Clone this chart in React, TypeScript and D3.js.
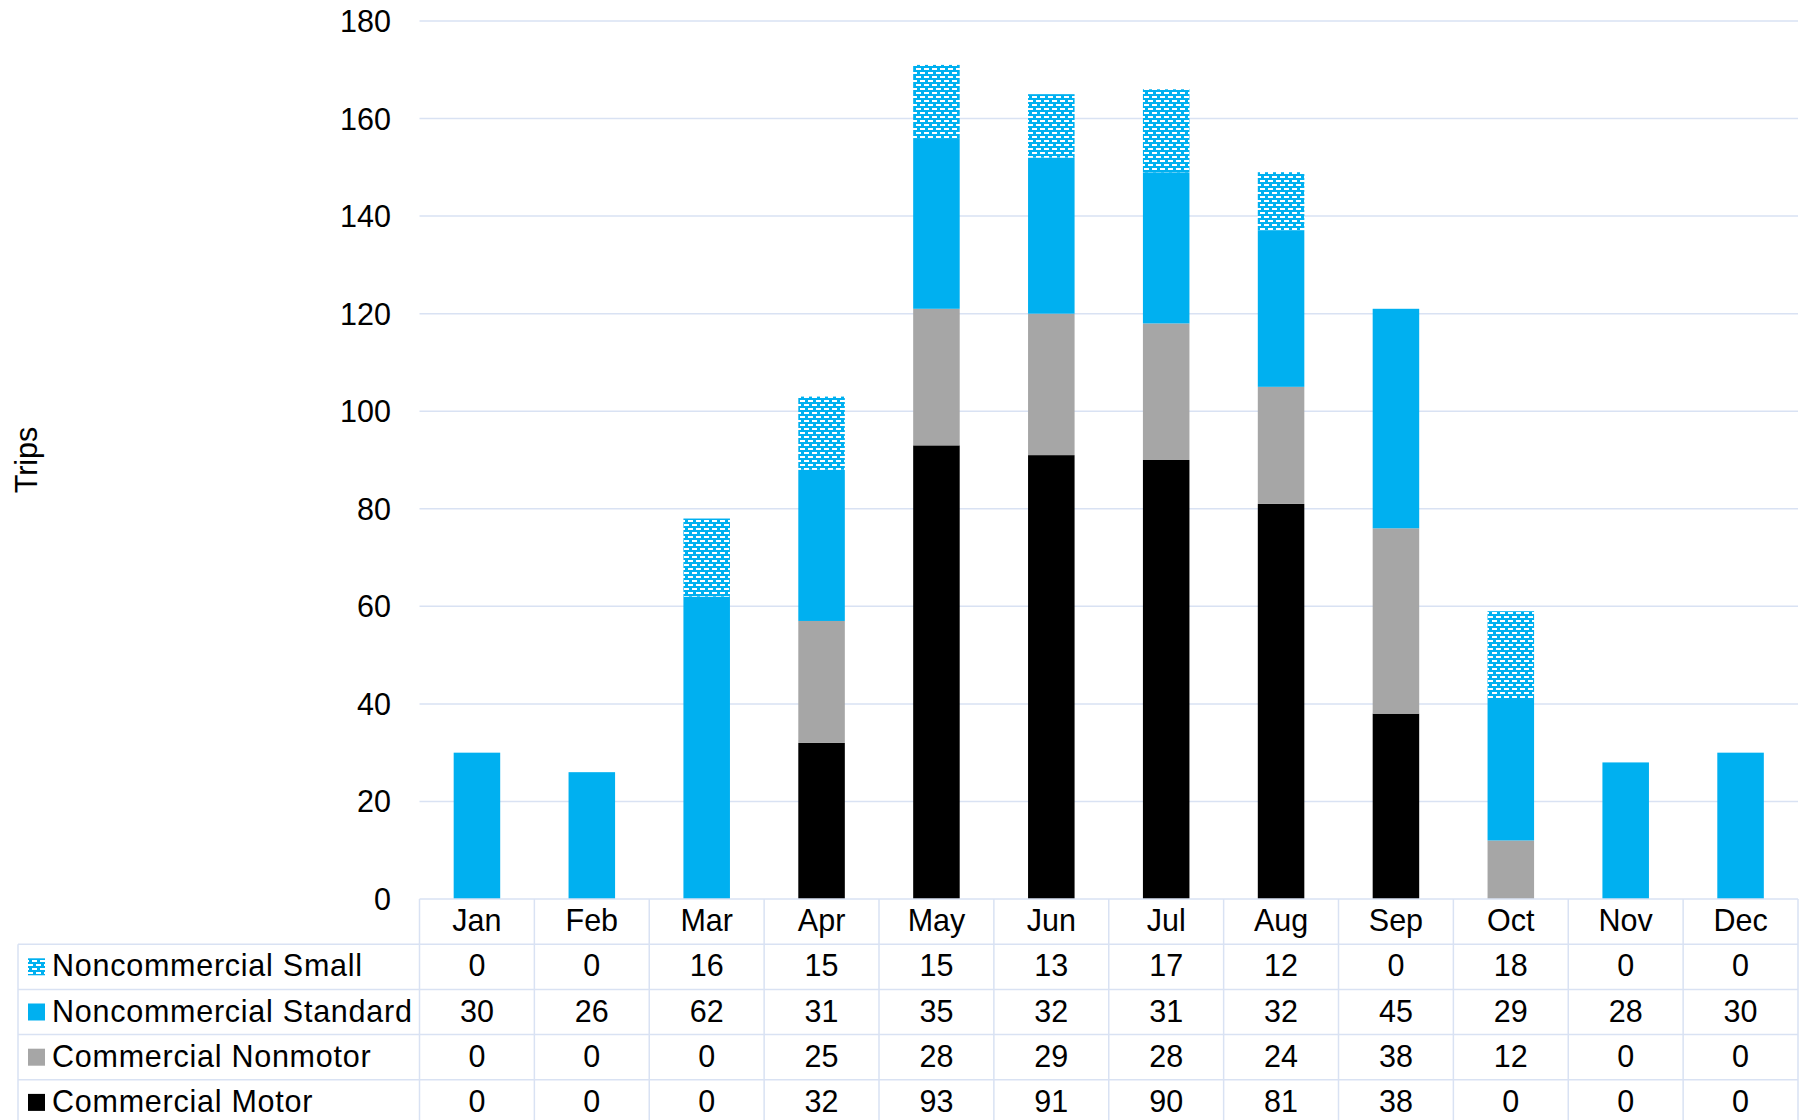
import React from "react";
import * as d3 from "d3";

const months = ["Jan","Feb","Mar","Apr","May","Jun","Jul","Aug","Sep","Oct","Nov","Dec"];
const commercialMotor = [0,0,0,32,93,91,90,81,38,0,0,0];
const commercialNonmotor = [0,0,0,25,28,29,28,24,38,12,0,0];
const noncommercialStandard = [30,26,62,31,35,32,31,32,45,29,28,30];
const noncommercialSmall = [0,0,16,15,15,13,17,12,0,18,0,0];
const yTicks = [0,20,40,60,80,100,120,140,160,180];

const seriesNames = ["Commercial Motor","Commercial Nonmotor","Noncommercial Standard","Noncommercial Small"];
const seriesColors = ["#000000","#A6A6A6","#00B0F0","url(#smallPat)"];
const seriesValues = [commercialMotor, commercialNonmotor, noncommercialStandard, noncommercialSmall];

const W = 1807, H = 1120;
const FONT = "'Liberation Sans', Arial, sans-serif";
const FS = 30.5;
const GRID = "#D9E2F3";

export default function App() {
  const left = 419.5, right = 1798;
  const top = 21, bottom = 899;
  const x = d3.scaleBand<string>().domain(months).range([left, right]).paddingInner(0).paddingOuter(0);
  const y = d3.scaleLinear().domain([0, 180]).range([bottom, top]);
  const bw = x.bandwidth() * 0.405;

  const rows = months.map((m, i) => {
    const o: any = { month: m };
    seriesNames.forEach((s, k) => (o[s] = seriesValues[k][i]));
    return o;
  });
  const stack = d3.stack<any>().keys(seriesNames)(rows);

  const rowH = 45.2;
  const headerTop = 899;
  const bodyTop = headerTop + rowH;
  const tableLeft = 18;
  const legendOrder = [3, 2, 1, 0];
  const dy = -1.5;

  return (
    <svg width={W} height={H} style={{ position: "absolute", left: 0, top: 0, background: "#fff" }} fontFamily={FONT}>
      <defs>
        <pattern id="smallPat" width={8} height={8} patternUnits="userSpaceOnUse">
          <rect width={8} height={8} fill="#00B0F0" />
          <rect x={0} y={0} width={5} height={2} fill="#fff" />
          <rect x={4} y={4} width={5} height={2} fill="#fff" />
          <rect x={-4} y={4} width={5} height={2} fill="#fff" />
        </pattern>
      </defs>
      <rect width={W} height={H} fill="#fff" />
      {yTicks.map((t) => (
        <g key={t}>
          {t > 0 && <line x1={left} x2={right} y1={y(t)} y2={y(t)} stroke={GRID} strokeWidth={1.5} />}
          <text x={391} y={y(t)} textAnchor="end" dominantBaseline="central" fontSize={FS} fill="#000">{t}</text>
        </g>
      ))}
      <text transform={`translate(26,${(top + bottom) / 2}) rotate(-90)`} textAnchor="middle" dominantBaseline="central" fontSize={FS} fill="#000">Trips</text>
      {stack.map((s, k) => (
        <g key={seriesNames[k]}>
          {s.map((d: any, i: number) => {
            const h = y(d[0]) - y(d[1]);
            if (h <= 0) return null;
            return (
              <rect key={i} x={(x(months[i]) as number) + (x.bandwidth() - bw) / 2} y={y(d[1])} width={bw} height={h} fill={seriesColors[k]} />
            );
          })}
        </g>
      ))}
      {/* table */}
      <g stroke={GRID} strokeWidth={1.5} fill="none">
        <line x1={left} x2={right} y1={headerTop} y2={headerTop} />
        {[1, 2, 3, 4, 5].map((r) => (
          <line key={r} x1={tableLeft} x2={right} y1={headerTop + r * rowH} y2={headerTop + r * rowH} />
        ))}
        <line x1={tableLeft} x2={tableLeft} y1={bodyTop} y2={H} />
        {months.map((m) => (
          <line key={m} x1={x(m)} x2={x(m)} y1={headerTop} y2={H} />
        ))}
        <line x1={right} x2={right} y1={headerTop} y2={H} />
      </g>
      {months.map((m) => (
        <text key={m} x={(x(m) as number) + x.bandwidth() / 2} y={headerTop + rowH / 2 + dy} textAnchor="middle" dominantBaseline="central" fontSize={FS} fill="#000">{m}</text>
      ))}
      {legendOrder.map((k, r) => {
        const cy = bodyTop + r * rowH + rowH / 2;
        return (
          <g key={seriesNames[k]}>
            <rect x={28} y={cy - 8.5} width={17} height={17} fill={seriesColors[k]} />
            <text x={52} y={cy + dy} dominantBaseline="central" fontSize={FS} letterSpacing={0.75} fill="#000">{seriesNames[k]}</text>
            {months.map((m, i) => (
              <text key={m} x={(x(m) as number) + x.bandwidth() / 2} y={cy + dy} textAnchor="middle" dominantBaseline="central" fontSize={FS} fill="#000">{seriesValues[k][i]}</text>
            ))}
          </g>
        );
      })}
    </svg>
  );
}
